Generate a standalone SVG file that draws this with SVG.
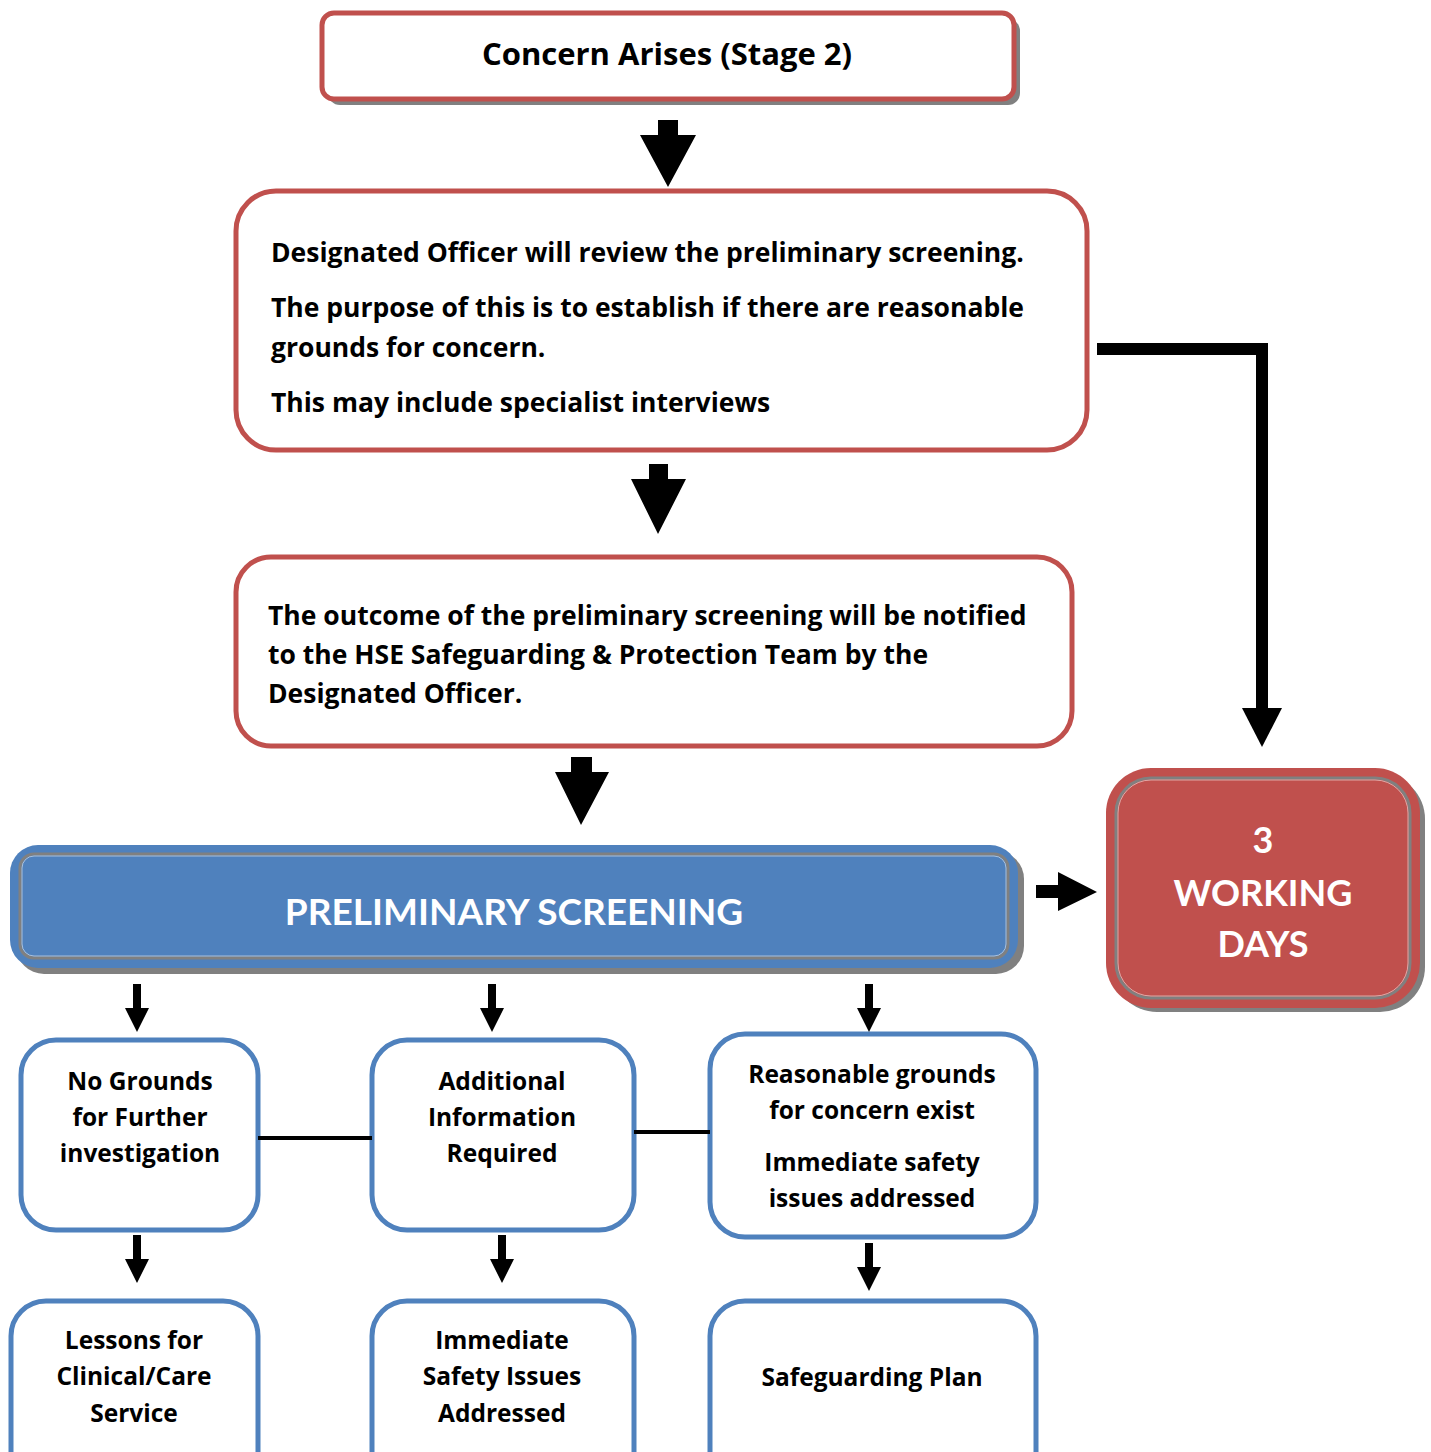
<svg xmlns="http://www.w3.org/2000/svg" width="1431" height="1452" viewBox="0 0 1431 1452">
<style>
.red{fill:#fff;stroke:#C0504D;stroke-width:5}
.blue{fill:#fff;stroke:#4F81BD;stroke-width:5}
.shadow{fill:#808080}
.t{font-family:"Open Sans","Liberation Sans",sans-serif;font-weight:bold;fill:#000}
.l{font-family:Lato,"Liberation Sans",sans-serif;font-weight:bold}
.c{text-anchor:middle}
.w{fill:#fff}
.b{font-size:26.5px}
.s{font-size:24.5px}
.arr{fill:#000}
.line{stroke:#000;fill:none}
</style>
<rect width="1431" height="1452" fill="#fff"/>
<g id="concern">
<rect class="shadow" x="328" y="19" width="692" height="86" rx="12"/>
<rect class="red" x="322" y="13" width="692" height="86" rx="12"/>
<text class="t c" x="667" y="65" font-size="31">Concern Arises (Stage 2)</text>
</g>
<g id="review">
<rect class="red" x="236" y="191" width="851" height="259" rx="40"/>
<text class="t b" x="271" y="262">Designated Officer will review the preliminary screening.</text>
<text class="t b" x="271" y="317">The purpose of this is to establish if there are reasonable</text>
<text class="t b" x="271" y="357">grounds for concern.</text>
<text class="t b" x="271" y="412">This may include specialist interviews</text>
</g>
<g id="outcome">
<rect class="red" x="236" y="557" width="836" height="189" rx="35"/>
<text class="t b" x="268" y="625">The outcome of the preliminary screening will be notified</text>
<text class="t b" x="268" y="664">to the HSE Safeguarding &amp; Protection Team by the</text>
<text class="t b" x="268" y="703">Designated Officer.</text>
</g>
<g id="prelim">
<rect class="shadow" x="16" y="851" width="1008" height="123" rx="28"/>
<rect x="10" y="845" width="1008" height="123" rx="28" fill="#4F81BD"/>
<rect x="20" y="854" width="988" height="104" rx="14" fill="#4F81BD" stroke="#808080" stroke-width="3"/>
<rect x="22" y="856" width="984" height="100" rx="12" fill="none" stroke="#fff" stroke-width="1" opacity="0.5"/>
<text class="t l c w" x="514" y="925" font-size="37">PRELIMINARY SCREENING</text>
</g>
<g id="days">
<rect class="shadow" x="1112" y="774" width="313" height="238" rx="45"/>
<rect x="1106" y="768" width="314" height="240" rx="45" fill="#C0504D"/>
<rect x="1116" y="778" width="294" height="220" rx="35" fill="#C0504D" stroke="#808080" stroke-width="3"/>
<rect x="1118" y="780" width="290" height="216" rx="33" fill="none" stroke="#fff" stroke-width="1" opacity="0.5"/>
<text class="t l c w" x="1263" y="853" font-size="36">3</text>
<text class="t l c w" x="1263" y="906" font-size="36">WORKING</text>
<text class="t l c w" x="1263" y="957" font-size="36">DAYS</text>
</g>
<g id="nogrounds">
<rect class="blue" x="21" y="1040" width="237" height="190" rx="35"/>
<text class="t c s" x="140" y="1090">No Grounds</text>
<text class="t c s" x="140" y="1126">for Further</text>
<text class="t c s" x="140" y="1162">investigation</text>
</g>
<g id="additional">
<rect class="blue" x="372" y="1040" width="262" height="190" rx="35"/>
<text class="t c s" x="502" y="1090">Additional</text>
<text class="t c s" x="502" y="1126">Information</text>
<text class="t c s" x="502" y="1162">Required</text>
</g>
<g id="reasonable">
<rect class="blue" x="710" y="1034" width="326" height="203" rx="35"/>
<text class="t c s" x="872" y="1083">Reasonable grounds</text>
<text class="t c s" x="872" y="1119">for concern exist</text>
<text class="t c s" x="872" y="1171">Immediate safety</text>
<text class="t c s" x="872" y="1207">issues addressed</text>
</g>
<g id="lessons">
<rect class="blue" x="11" y="1301" width="247" height="190" rx="35"/>
<text class="t c s" x="134" y="1349">Lessons for</text>
<text class="t c s" x="134" y="1385">Clinical/Care</text>
<text class="t c s" x="134" y="1422">Service</text>
</g>
<g id="immediate">
<rect class="blue" x="372" y="1301" width="262" height="190" rx="35"/>
<text class="t c s" x="502" y="1349">Immediate</text>
<text class="t c s" x="502" y="1385">Safety Issues</text>
<text class="t c s" x="502" y="1422">Addressed</text>
</g>
<g id="plan">
<rect class="blue" x="710" y="1301" width="326" height="190" rx="35"/>
<text class="t c s" x="872" y="1386">Safeguarding Plan</text>
</g>
<g id="connectors">
<polygon class="arr" points="658,120 678,120 678,135 696,135 668,187 640,135 658,135"/>
<polygon class="arr" points="649,464 668,464 668,479 686,479 658,534 631,479 649,479"/>
<polygon class="arr" points="571,757 592,757 592,772 609,772 581,825 555,772 571,772"/>
<polyline class="line" stroke-width="12" points="1097,349 1262,349 1262,710"/>
<polygon class="arr" points="1242,708 1282,708 1262,747"/>
<polygon class="arr" points="1036,885 1058,885 1058,872 1097,892 1058,911 1058,898 1036,898"/>
<polygon class="arr" points="133,984 141,984 141,1008 149,1008 137,1032 125,1008 133,1008"/>
<polygon class="arr" points="488,984 496,984 496,1008 504,1008 492,1032 480,1008 488,1008"/>
<polygon class="arr" points="865,984 873,984 873,1008 881,1008 869,1032 857,1008 865,1008"/>
<polygon class="arr" points="133,1235 141,1235 141,1259 149,1259 137,1283 125,1259 133,1259"/>
<polygon class="arr" points="498,1235 506,1235 506,1259 514,1259 502,1283 490,1259 498,1259"/>
<polygon class="arr" points="865,1243 873,1243 873,1267 881,1267 869,1291 857,1267 865,1267"/>
<line class="line" stroke-width="4" x1="258" y1="1138" x2="372" y2="1138"/>
<line class="line" stroke-width="4" x1="634" y1="1132" x2="710" y2="1132"/>
</g>
</svg>
